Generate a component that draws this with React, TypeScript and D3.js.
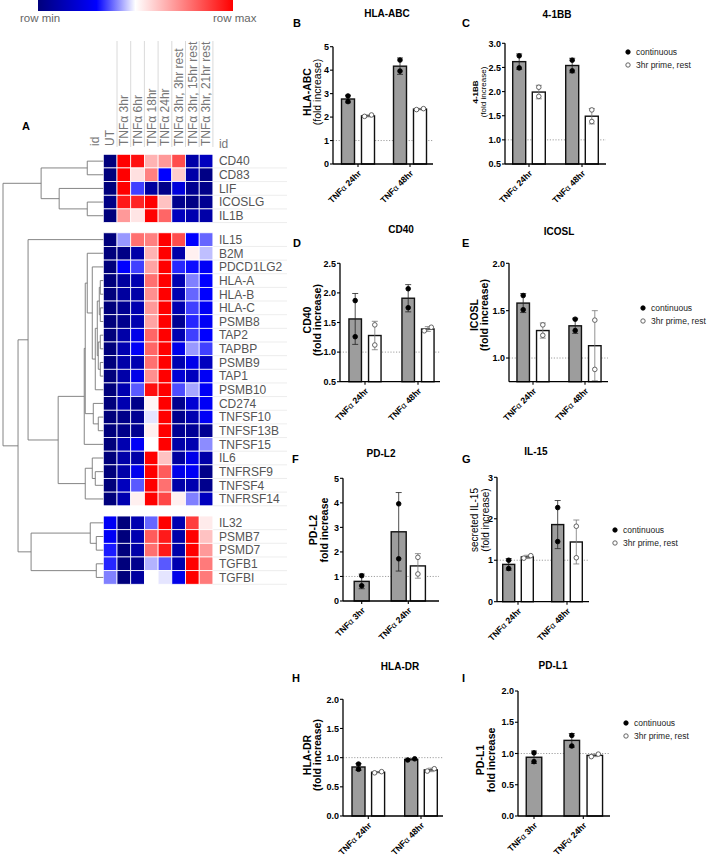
import React from 'react';
import * as d3 from 'd3';

const FONT = "'Liberation Sans', Arial, sans-serif";

// ---------- heatmap data ----------
const conditions = ['UT', 'TNFα 3hr', 'TNFα 6hr', 'TNFα 18hr', 'TNFα 24hr',
  'TNFα 3hr, 3hr rest', 'TNFα 3hr, 15hr rest', 'TNFα 3hr, 21hr rest'];

const genesGroup1 = ['CD40', 'CD83', 'LIF', 'ICOSLG', 'IL1B'];
const genesGroup2 = ['IL15', 'B2M', 'PDCD1LG2', 'HLA-A', 'HLA-B', 'HLA-C', 'PSMB8', 'TAP2', 'TAPBP',
  'PSMB9', 'TAP1', 'PSMB10', 'CD274', 'TNFSF10', 'TNFSF13B', 'TNFSF15', 'IL6', 'TNFRSF9', 'TNFSF4', 'TNFRSF14'];
const genesGroup3 = ['IL32', 'PSMB7', 'PSMD7', 'TGFB1', 'TGFBI'];

// 0 = row min (navy), 0.5 = white, 1 = row max (red)
const heatRows = [
  [0, 1, 0.97, 0.65, 0.7, 0.85, 0.1, 0.15],
  [0, 1, 0.56, 0.75, 0.3, 0.6, 0.1, 0.02],
  [0, 1, 0.35, 0.08, 0.03, 0.22, 0.05, 0.03],
  [0.02, 0.95, 0.93, 1, 0.62, 0.04, 0.02, 0.05],
  [0, 0.7, 0.55, 1, 0.8, 0.15, 0.12, 0.1],
  [0, 0.42, 0.78, 0.75, 1, 0.85, 0.3, 0.38],
  [0, 0.02, 0.1, 0.65, 1, 0.1, 0.53, 0.45],
  [0, 0.3, 0.35, 0.68, 1, 0.33, 0.31, 0.28],
  [0, 0.08, 0.12, 0.78, 1, 0.12, 0.4, 0.3],
  [0, 0.08, 0.1, 0.72, 1, 0.12, 0.38, 0.3],
  [0, 0.05, 0.12, 0.7, 1, 0.12, 0.35, 0.28],
  [0, 0.04, 0.12, 0.68, 1, 0.05, 0.33, 0.28],
  [0, 0.1, 0.25, 0.8, 1, 0.12, 0.35, 0.3],
  [0, 0.12, 0.28, 0.8, 1, 0.25, 0.42, 0.35],
  [0, 0.1, 0.12, 0.78, 1, 0.12, 0.25, 0.15],
  [0, 0.1, 0.25, 0.72, 1, 0.2, 0.15, 0.28],
  [0, 0.12, 0.37, 0.97, 1, 0.36, 0.43, 0.28],
  [0, 0.12, 0.03, 0.52, 1, 0.04, 0.2, 0.28],
  [0, 0.03, 0.05, 0.48, 1, 0.04, 0.12, 0.28],
  [0, 0.03, 0.05, 0.53, 1, 0.05, 0.06, 0.05],
  [0, 0.12, 0.28, 0.5, 1, 0.1, 0.12, 0.41],
  [0, 0.1, 0.1, 1, 0.62, 0.08, 0.25, 0.1],
  [0, 0.1, 0.26, 1, 0.82, 0.25, 0.28, 0.03],
  [0, 0.15, 0.37, 1, 0.78, 0.1, 0.12, 0.04],
  [0, 0.12, 0.53, 1, 0.86, 0.53, 0.4, 0.15],
  [0.28, 0, 0.12, 0.38, 1, 0.12, 0.88, 0.54],
  [0.28, 0, 0.12, 0.82, 0.95, 0.1, 1, 0.62],
  [0.32, 0, 0.1, 0.78, 0.95, 0.1, 1, 0.7],
  [0.33, 0, 0.04, 0.44, 0.37, 0.12, 1, 0.76],
  [0.4, 0, 0.08, 0.5, 0.48, 0.25, 1, 0.76],
];

// dendrogram: merge height (0 = leaf, 1 = root)
type Tree = string | { h: number; c: Tree[] };
const t = (h: number, ...c: Tree[]): Tree => ({ h, c });
const hlaCore = t(0.06, t(0.04, t(0.03, 'HLA-A', 'HLA-B'), t(0.03, 'HLA-C', 'PSMB8')),
  t(0.05, t(0.03, 'TAP2', 'TAPBP'), t(0.03, 'PSMB9', 'TAP1')));
const dendro: Tree = t(1.0,
  t(0.62, t(0.16, 'CD40', 'CD83'), t(0.44, 'LIF', t(0.16, 'ICOSLG', 'IL1B'))),
  t(0.85,
    t(0.75, 'IL15', t(0.45,
      t(0.19, t(0.18, t(0.16, 'B2M', t(0.11, 'PDCD1LG2', t(0.08, hlaCore, 'PSMB10'))),
        t(0.1, 'CD274', t(0.05, 'TNFSF10', 'TNFSF13B'))), 'TNFSF15'),
      t(0.18, t(0.11, 'IL6', t(0.08, 'TNFRSF9', 'TNFSF4')), 'TNFRSF14'))),
    t(0.72, t(0.13, 'IL32', t(0.07, 'PSMB7', 'PSMD7')), t(0.07, 'TGFB1', 'TGFBI'))));

// ---------- bar chart data ----------
const seriesNames = ['continuous', '3hr prime, rest'];
const groups24_48 = ['TNFα 24hr', 'TNFα 48hr'];
const groups3_24 = ['TNFα 3hr', 'TNFα 24hr'];

const hlaAbcMean = [[2.77, 2.05], [4.17, 2.34]];
const hlaAbcSd = [[0.16, 0.04], [0.35, 0.03]];
const hlaAbcPts = [[[2.9, 2.66], [2.03, 2.09]], [[4.43, 3.96], [2.32, 2.36]]];

const bb41Mean = [[2.62, 1.99], [2.54, 1.49]];
const bb41Sd = [[0.16, 0.14], [0.15, 0.16]];
const bb41Pts = [[[2.74, 2.49], [2.09, 1.9]], [[2.65, 2.43], [1.62, 1.38]]];

const cd40Mean = [[1.56, 1.28], [1.91, 1.39]];
const cd40Sd = [[0.43, 0.24], [0.23, 0.04]];
const cd40Pts = [[[1.87, 1.26], [1.46, 1.12]], [[2.07, 1.75], [1.36, 1.42]]];

const icoslMean = [[1.58, 1.29], [1.34, 1.13]];
const icoslSd = [[0.1, 0.08], [0.08, 0.37]];
const icoslPts = [[[1.66, 1.51], [1.35, 1.24]], [[1.41, 1.29], [1.4, 0.88]]];

const pdl2Mean = [[0.8, null], [2.82, 1.43]];
const pdl2Sd = [[0.3, 0], [1.6, 0.5]];
const pdl2Pts = [[[1.03, 0.62], []], [[3.96, 1.72], [1.78, 1.1]]];

const il15Mean = [[0.9, 1.08], [1.86, 1.44]];
const il15Sd = [[0.14, 0.04], [0.58, 0.53]];
const il15Pts = [[[1.0, 0.8], [1.05, 1.11]], [[2.27, 1.45], [1.82, 1.06]]];

const hlaDrMean = [[0.84, 0.75], [0.97, 0.79]];
const hlaDrSd = [[0.06, 0.01], [0.01, 0.03]];
const hlaDrPts = [[[0.89, 0.8], [0.74, 0.76]], [[0.96, 0.98], [0.77, 0.81]]];

const pdl1Mean = [[0.94, null], [1.21, 0.97]];
const pdl1Sd = [[0.1, 0], [0.11, 0.02]];
const pdl1Pts = [[[1.01, 0.87], []], [[1.29, 1.12], [0.95, 0.99]]];

// ---------- heatmap layout ----------
const cellX0 = 103.3, cellW = 13.7, rowH = 13.65, rowY0 = 154.3;
const allGenes = [...genesGroup1, ...genesGroup2, ...genesGroup3];
const heatColor = d3.scaleLinear<string>().domain([0, 0.3, 0.5, 1])
  .range(['#00007c', '#0000ff', '#ffffff', '#ff0000']).interpolate(d3.interpolateRgb);
const colX = d3.scaleBand().domain(conditions).range([cellX0, cellX0 + cellW * conditions.length]);
const slotY = d3.scaleLinear().domain([0, 1]).range([rowY0, rowY0 + rowH]);
const rowTop = (i: number) => {
  const g = i < genesGroup1.length ? 0 : i < genesGroup1.length + genesGroup2.length ? 1 : 2;
  return slotY(i + g * 0.75);
};
const distX = d3.scaleLinear().domain([0, 1]).range([cellX0, 3]);

function dendroLines(node: Tree, out: number[][]): { y: number; h: number } {
  if (typeof node === 'string') return { y: rowTop(allGenes.indexOf(node)) + rowH / 2, h: 0 };
  const kids = node.c.map(k => dendroLines(k, out));
  const ys = kids.map(k => k.y);
  const x = distX(node.h);
  out.push([x, d3.min(ys)!, x, d3.max(ys)!]);
  kids.forEach(k => out.push([x, k.y, distX(k.h), k.y]));
  return { y: (d3.min(ys)! + d3.max(ys)!) / 2, h: node.h };
}

const Heatmap = () => {
  const lines: number[][] = [];
  dendroLines(dendro, lines);
  const labX = cellX0 + cellW * conditions.length;
  return (
    <g>
      <defs>
        <linearGradient id="rowgrad" x1="0" x2="1" y1="0" y2="0">
          {heatColor.domain().map((d, i) => (
            <stop key={i} offset={d} stopColor={heatColor(d)} />
          ))}
        </linearGradient>
      </defs>
      <rect x={38} y={0} width={195} height={11} fill="url(#rowgrad)" />
      <text x={20} y={22} fontSize={11.5} fill="#666">row min</text>
      <text x={213} y={22} fontSize={11.5} fill="#666">row max</text>
      <text x={22} y={130} fontSize={11} fontWeight="bold">A</text>

      {conditions.map(c => (
        <line key={'gl' + c} x1={colX(c)! + cellW} x2={colX(c)! + cellW} y1={41} y2={147} stroke="#d0d0d0" strokeWidth={0.8} />
      ))}
      {conditions.map(c => (
        <text key={'h' + c} transform={`translate(${colX(c)! + cellW / 2 + 4.3},146) rotate(-90)`}
          fontSize={12} fill="#777">{c}</text>
      ))}
      <text transform={`translate(${cellX0 - 4},146) rotate(-90)`} fontSize={12} fill="#777">id</text>
      <text x={labX + 6} y={148} fontSize={12} fill="#777">id</text>

      {allGenes.map((g, i) => (
        <g key={g}>
          {heatRows[i].map((v, j) => (
            <rect key={j} x={colX(conditions[j])} y={rowTop(i)} width={cellW} height={rowH}
              fill={heatColor(v)} stroke="#fff" strokeWidth={0.8} />
          ))}
          <line x1={labX} x2={287} y1={rowTop(i) + rowH} y2={rowTop(i) + rowH} stroke="#e8e8e8" strokeWidth={0.8} />
          <text x={labX + 6} y={rowTop(i) + rowH / 2 + 4.3} fontSize={12} fill="#555">{g}</text>
        </g>
      ))}
      {lines.map((l, i) => (
        <line key={'d' + i} x1={l[0]} y1={l[1]} x2={l[2]} y2={l[3]} stroke="#777" strokeWidth={0.9} />
      ))}
    </g>
  );
};

// ---------- bar panel ----------
interface PanelProps {
  title: string; letter: string; groups: string[];
  means: (number | null)[][]; sds: number[][]; pts: number[][][];
  yLabel: string[]; labelBold: boolean[]; labelSize: number;
  x0: number; x1: number; yTop: number; yBot: number; domain: [number, number];
  ticks: number[]; fmt: string; gx: [number, number]; d: number; w: number;
  titleX: number; titleY: number; letterX: number; letterY: number;
  labelX: number[]; labelY: number; legend?: [number, number];
}

const Panel = (p: PanelProps) => {
  const y = d3.scaleLinear().domain(p.domain).range([p.yBot, p.yTop]);
  const gx = d3.scalePoint<string>().domain(p.groups).range(p.gx);
  const sx = d3.scaleBand<string>().domain(seriesNames)
    .range([-p.d - p.w / 2, p.d + p.w / 2]).paddingInner(1 - p.w / (2 * p.d));
  const fmt = d3.format(p.fmt);
  const marks: React.ReactNode[] = [];
  p.groups.forEach((g, gi) => {
    const present = seriesNames.filter((_, si) => p.means[gi][si] !== null);
    seriesNames.forEach((s, si) => {
      const m = p.means[gi][si];
      if (m === null) return;
      const cx = gx(g)! + (present.length === 1 ? 0 : sx(s)! + p.w / 2);
      const sd = p.sds[gi][si];
      const filled = si === 0;
      marks.push(
        <rect key={`b${gi}${si}`} x={cx - p.w / 2} y={y(m)} width={p.w} height={p.yBot - y(m)}
          fill={filled ? '#9d9d9d' : '#fff'} stroke="#111" strokeWidth={1.4} />
      );
      const eTop = y(m + sd), eBot = y(Math.max(p.domain[0], m - sd));
      marks.push(
        <g key={`e${gi}${si}`} stroke={filled ? '#222' : '#777'} strokeWidth={0.8}>
          <line x1={cx} x2={cx} y1={eTop} y2={eBot} />
          <line x1={cx - 3} x2={cx + 3} y1={eTop} y2={eTop} />
          <line x1={cx - 3} x2={cx + 3} y1={eBot} y2={eBot} />
        </g>
      );
      const vals = p.pts[gi][si];
      const close = vals.length === 2 && Math.abs(y(vals[0]) - y(vals[1])) < 5;
      vals.forEach((v, k) => {
        const px = cx + (close ? (k === 0 ? -3.5 : 3.5) : 0);
        marks.push(
          <circle key={`p${gi}${si}${k}`} cx={px} cy={y(v)} r={2.3}
            fill={filled ? '#000' : '#fff'} stroke={filled ? '#000' : '#555'} strokeWidth={0.9} />
        );
      });
    });
  });
  return (
    <g>
      <text x={p.letterX} y={p.letterY} fontSize={11} fontWeight="bold">{p.letter}</text>
      <text x={p.titleX} y={p.titleY} fontSize={10} fontWeight="bold" textAnchor="middle">{p.title}</text>
      {p.yLabel.map((l, i) => (
        <text key={l} transform={`translate(${p.labelX[i]},${p.labelY}) rotate(-90)`} textAnchor="middle"
          fontSize={p.labelSize} fontWeight={p.labelBold[i] ? 'bold' : 'normal'}>{l}</text>
      ))}
      <line x1={p.x0} x2={p.x1} y1={y(1)} y2={y(1)} stroke="#888" strokeWidth={0.8} strokeDasharray="1.2,1.6" />
      {marks}
      <line x1={p.x0} x2={p.x0} y1={p.yTop} y2={p.yBot} stroke="#000" strokeWidth={1.3} />
      <line x1={p.x0} x2={p.x1} y1={p.yBot} y2={p.yBot} stroke="#000" strokeWidth={1.3} />
      {p.ticks.map(v => (
        <g key={v}>
          <line x1={p.x0 - 3} x2={p.x0} y1={y(v)} y2={y(v)} stroke="#000" strokeWidth={1.1} />
          <text x={p.x0 - 4} y={y(v) + 3.2} fontSize={9} fontWeight="bold" textAnchor="end">{fmt(v)}</text>
        </g>
      ))}
      {p.groups.map(g => (
        <g key={g}>
          <line x1={gx(g)} x2={gx(g)} y1={p.yBot} y2={p.yBot + 3} stroke="#000" strokeWidth={1.1} />
          <text transform={`translate(${gx(g)! + 2},${p.yBot + 8}) rotate(-45)`} textAnchor="end"
            fontSize={8.6} fontWeight="bold" dy="0.3em">
            {g.split('α')[0]}<tspan fontWeight="normal">α</tspan>{g.split('α')[1]}
          </text>
        </g>
      ))}
      {p.legend && seriesNames.map((s, i) => (
        <g key={s}>
          <circle cx={p.legend![0]} cy={p.legend![1] + i * 13} r={2.2}
            fill={i === 0 ? '#000' : '#fff'} stroke={i === 0 ? '#000' : '#555'} strokeWidth={0.9} />
          <text x={p.legend![0] + 8} y={p.legend![1] + i * 13 + 3.2} fontSize={8.5} fill="#222">{s}</text>
        </g>
      ))}
    </g>
  );
};

const App = () => (
  <svg width={708} height={856} style={{ position: 'absolute', left: 0, top: 0, background: '#fff' }} fontFamily={FONT}>
    <Heatmap />
    <Panel title="HLA-ABC" letter="B" groups={groups24_48} means={hlaAbcMean} sds={hlaAbcSd} pts={hlaAbcPts}
      yLabel={['HLA-ABC', '(fold increase)']} labelBold={[true, false]} labelSize={10.5} labelX={[311, 321]} labelY={92}
      x0={333} x1={433} yTop={46.7} yBot={164} domain={[0, 5]} ticks={[0, 1, 2, 3, 4, 5]} fmt="d"
      gx={[358, 410]} d={10} w={13} titleX={387} titleY={17} letterX={293} letterY={27} />
    <Panel title="4-1BB" letter="C" groups={groups24_48} means={bb41Mean} sds={bb41Sd} pts={bb41Pts}
      yLabel={['4-1BB', '(fold increase)']} labelBold={[true, false]} labelSize={8} labelX={[478, 486]} labelY={92}
      x0={505} x1={606} yTop={43.3} yBot={164} domain={[0.5, 3]} ticks={[0.5, 1, 1.5, 2, 2.5, 3]} fmt=".1f"
      gx={[529, 582]} d={9.8} w={13} titleX={557} titleY={18} letterX={462} letterY={27} legend={[628, 52]} />
    <Panel title="CD40" letter="D" groups={groups24_48} means={cd40Mean} sds={cd40Sd} pts={cd40Pts}
      yLabel={['CD40', '(fold increase)']} labelBold={[true, true]} labelSize={10.5} labelX={[311, 321]} labelY={320}
      x0={340} x1={440} yTop={263.3} yBot={381.7} domain={[0.5, 2.5]} ticks={[0.5, 1, 1.5, 2, 2.5]} fmt=".1f"
      gx={[365, 418]} d={9.8} w={12.5} titleX={401} titleY={233} letterX={293} letterY={247} />
    <Panel title="ICOSL" letter="E" groups={groups24_48} means={icoslMean} sds={icoslSd} pts={icoslPts}
      yLabel={['ICOSL', '(fold increase)']} labelBold={[true, true]} labelSize={10.5} labelX={[478, 488]} labelY={315}
      x0={509} x1={608} yTop={263.3} yBot={381.7} domain={[0.75, 2]} ticks={[1, 1.5, 2]} fmt=".1f"
      gx={[533, 585]} d={9.8} w={12.5} titleX={559} titleY={235} letterX={462} letterY={247} legend={[643, 308]} />
    <Panel title="PD-L2" letter="F" groups={groups3_24} means={pdl2Mean} sds={pdl2Sd} pts={pdl2Pts}
      yLabel={['PD-L2', 'fold increase']} labelBold={[true, true]} labelSize={10.5} labelX={[317, 328]} labelY={530}
      x0={343} x1={439} yTop={478.3} yBot={601} domain={[0, 5]} ticks={[0, 1, 2, 3, 4, 5]} fmt="d"
      gx={[361.7, 408.3]} d={9.6} w={15} titleX={381} titleY={457} letterX={292} letterY={463} />
    <Panel title="IL-15" letter="G" groups={groups24_48} means={il15Mean} sds={il15Sd} pts={il15Pts}
      yLabel={['secreted IL-15', '(fold increase)']} labelBold={[false, false]} labelSize={10} labelX={[478, 489]} labelY={520}
      x0={497} x1={589} yTop={477.3} yBot={601.7} domain={[0, 3]} ticks={[0, 1, 2, 3]} fmt="d"
      gx={[518, 567]} d={9.3} w={12} titleX={536} titleY={455} letterX={462} letterY={463} legend={[615, 530]} />
    <Panel title="HLA-DR" letter="H" groups={groups24_48} means={hlaDrMean} sds={hlaDrSd} pts={hlaDrPts}
      yLabel={['HLA-DR', '(fold increase)']} labelBold={[true, true]} labelSize={10.5} labelX={[311, 321]} labelY={755}
      x0={343} x1={443} yTop={699.3} yBot={816} domain={[0, 2]} ticks={[0, 0.5, 1, 1.5, 2]} fmt=".1f"
      gx={[368.3, 421]} d={9.8} w={13} titleX={400} titleY={670} letterX={292} letterY={682} />
    <Panel title="PD-L1" letter="I" groups={groups3_24} means={pdl1Mean} sds={pdl1Sd} pts={pdl1Pts}
      yLabel={['PD-L1', 'fold increase']} labelBold={[true, true]} labelSize={10.5} labelX={[484, 495]} labelY={760}
      x0={518} x1={610} yTop={691} yBot={816} domain={[0, 2]} ticks={[0, 0.5, 1, 1.5, 2]} fmt=".1f"
      gx={[534, 583.3]} d={11.5} w={15.5} titleX={553} titleY={669} letterX={462} letterY={682} legend={[626, 723]} />
  </svg>
);

export default App;
